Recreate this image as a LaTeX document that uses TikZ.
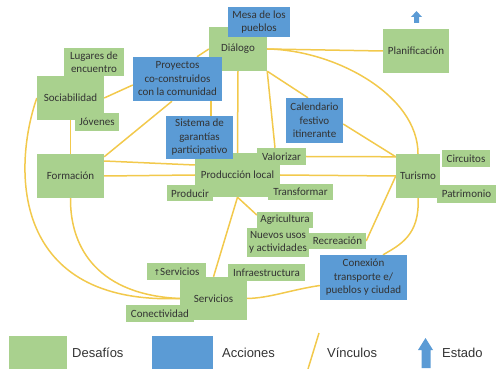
\documentclass[tikz,border=0pt]{standalone}
\usepackage{fontspec}
\setmainfont{Carlito}
\newfontfamily\legfont{Liberation Sans}
\newfontfamily\symfont{DejaVu Sans}
\usetikzlibrary{calc}
\definecolor{dgreen}{HTML}{A9D18E}
\definecolor{dblue}{HTML}{5B9BD5}
\definecolor{vinc}{HTML}{F2C94C}
\definecolor{txt}{HTML}{333333}
\pgfdeclarelayer{bg}
\pgfsetlayers{bg,main}
\begin{document}
\begin{tikzpicture}[x=1pt,y=-1pt,
  box/.style={rectangle, inner sep=0pt, align=center, text=txt, font=\fontsize{11}{13.5}\selectfont},
  gbox/.style={box, fill=dgreen},
  bbox/.style={box, fill=dblue},
  link/.style={draw=vinc, line width=1.5pt},
  legtext/.style={font=\legfont\fontsize{13}{15}\selectfont, text=txt, anchor=west, inner sep=0pt}
]
\useasboundingbox (0,0) rectangle (499,369);

% main boxes
\node[gbox, minimum width=58pt, minimum height=44pt] (dialogo) at (238,49) {Diálogo};
\node[bbox, minimum width=62pt, minimum height=30pt] (mesa) at (259,22) {Mesa de los\\pueblos};
\node[gbox, minimum width=66pt, minimum height=44pt] (plan) at (416,51) {Planificación};
\node[gbox, minimum width=60pt, minimum height=28pt] (lugares) at (94,62) {Lugares de\\encuentro};
\node[gbox, minimum width=67pt, minimum height=44pt] (sociab) at (70.5,98) {Sociabilidad};
\node[gbox, minimum width=44pt, minimum height=18pt] (jovenes) at (97,122) {Jóvenes};
\node[bbox, minimum width=89pt, minimum height=44pt] (proyectos) at (177.5,79) {Proyectos\\co-construidos\\con la comunidad};
\node[bbox, minimum width=57pt, minimum height=45pt] (calendario) at (314.5,120.5) {Calendario\\festivo\\itinerante};
\node[gbox, minimum width=67pt, minimum height=44pt] (formacion) at (70.5,176) {Formación};
\node[gbox, minimum width=85pt, minimum height=44pt] (prod) at (237.5,175) {Producción local};
\node[bbox, minimum width=67pt, minimum height=43pt] (sistema) at (199.5,137.5) {Sistema de\\garantías\\participativo};
\node[gbox, minimum width=49pt, minimum height=17pt] (valorizar) at (281.5,156.5) {Valorizar};
\node[gbox, minimum width=46pt, minimum height=16pt] (producir) at (190,193.5) {Producir};
\node[gbox, minimum width=65pt, minimum height=16pt] (transformar) at (300.5,192) {Transformar};
\node[gbox, minimum width=56pt, minimum height=16pt] (agricultura) at (285,220) {Agricultura};
\node[gbox, minimum width=62pt, minimum height=29pt] (nuevos) at (278,242.5) {Nuevos usos\\y actividades};
\node[gbox, minimum width=57pt, minimum height=16pt] (recreacion) at (337.5,241) {Recreación};
\node[bbox, minimum width=87pt, minimum height=45pt] (conexion) at (363.5,277.5) {Conexión\\transporte e/\\pueblos y ciudad};
\node[gbox, minimum width=44pt, minimum height=44pt] (turismo) at (418,176) {Turismo};
\node[gbox, minimum width=48pt, minimum height=17pt] (circuitos) at (466,158.5) {Circuitos};
\node[gbox, minimum width=59pt, minimum height=18pt] (patrimonio) at (466.5,194) {Patrimonio};
\node[gbox, minimum width=67pt, minimum height=43pt] (servicios) at (213.5,298.5) {Servicios};
\node[gbox, minimum width=59pt, minimum height=17pt] (masserv) at (176.5,271.5) {{\symfont\fontsize{8}{8}\selectfont↑}Servicios};
\node[gbox, minimum width=77pt, minimum height=17pt] (infra) at (266.5,272.5) {Infraestructura};
\node[gbox, minimum width=68pt, minimum height=17pt] (conect) at (160,313.5) {Conectividad};

% estado arrow at top
\fill[dblue] (416.5,11) -- (422,17) -- (419,17) -- (419,23) -- (414,23) -- (414,17) -- (411,17) -- cycle;

% links
\begin{pgfonlayer}{bg}
\draw[link] (sociab.east) -- ([shift={(0,6)}]proyectos.west);
\draw[link] ([shift={(19.5,0)}]proyectos.north) -- (dialogo.west);
\draw[link] ([shift={(-5.5,0)}]proyectos.south) -- ([shift={(0,3)}]formacion.north east);
\draw[link] ([shift={(33.5,0)}]proyectos.south) -- ([shift={(11.5,0)}]sistema.north);
\draw[link] (sociab.south) -- (formacion.north);
\draw[link] (sociab.west) .. controls (12,170) and (12,305) .. (servicios.west);
\draw[link] (formacion.south) .. controls (70,250) and (100,295) .. (servicios.west);
\draw[link] ([shift={(0,-15)}]formacion.east) -- ([shift={(0,-10)}]prod.west);
\draw[link] (formacion.east) -- (prod.west);
\draw[link] (dialogo.east) -- (plan.west);
\draw[link] (dialogo.east) .. controls (335,50) and (418,95) .. (turismo.north);
\draw[link] (dialogo.south east) -- ([shift={(-6.5,0)}]calendario.north);
\draw[link] (dialogo.south east) -- ([shift={(-6.5,0)}]valorizar.north);
\draw[link] (dialogo.south) -- (prod.north);
\draw[link] ([shift={(0,3.5)}]calendario.east) -- ([shift={(0,3)}]turismo.north west);
\draw[link] (valorizar.east) -- ([shift={(0,3)}]turismo.north west);
\draw[link] (prod.east) -- (turismo.west);
\draw[link] (prod.south) -- ([shift={(0,-5)}]agricultura.west);
\draw[link] (prod.south) -- (servicios.north);
\draw[link] (recreacion.east) -- (turismo.west);
\draw[link] (turismo.south) .. controls (420,235) and (400,245) .. ([shift={(19.5,0)}]conexion.north);
\draw[link] ([shift={(0,8)}]conexion.west) .. controls (290,290) and (270,298) .. (servicios.east);
\end{pgfonlayer}

% legend
\node[fill=dgreen, minimum width=58pt, minimum height=33pt, inner sep=0pt] (legG) at (38,352.5) {};
\node[legtext] (legGt) at (72,353) {Desafíos};
\node[fill=dblue, minimum width=61pt, minimum height=33pt, inner sep=0pt] (legB) at (182.5,352.5) {};
\node[legtext] (legBt) at (222,353) {Acciones};
\coordinate (v1) at (319,333);
\coordinate (v2) at (308,369);
\draw[link] (v1) -- (v2);
\node[legtext] (legVt) at (327,353) {Vínculos};
\fill[dblue] (425.5,338) -- (433,350) -- (430.5,350) -- (430.5,368) -- (421.5,368) -- (421.5,350) -- (418,350) -- cycle;
\node[legtext] (legEt) at (442,353) {Estado};
\end{tikzpicture}
\end{document}
